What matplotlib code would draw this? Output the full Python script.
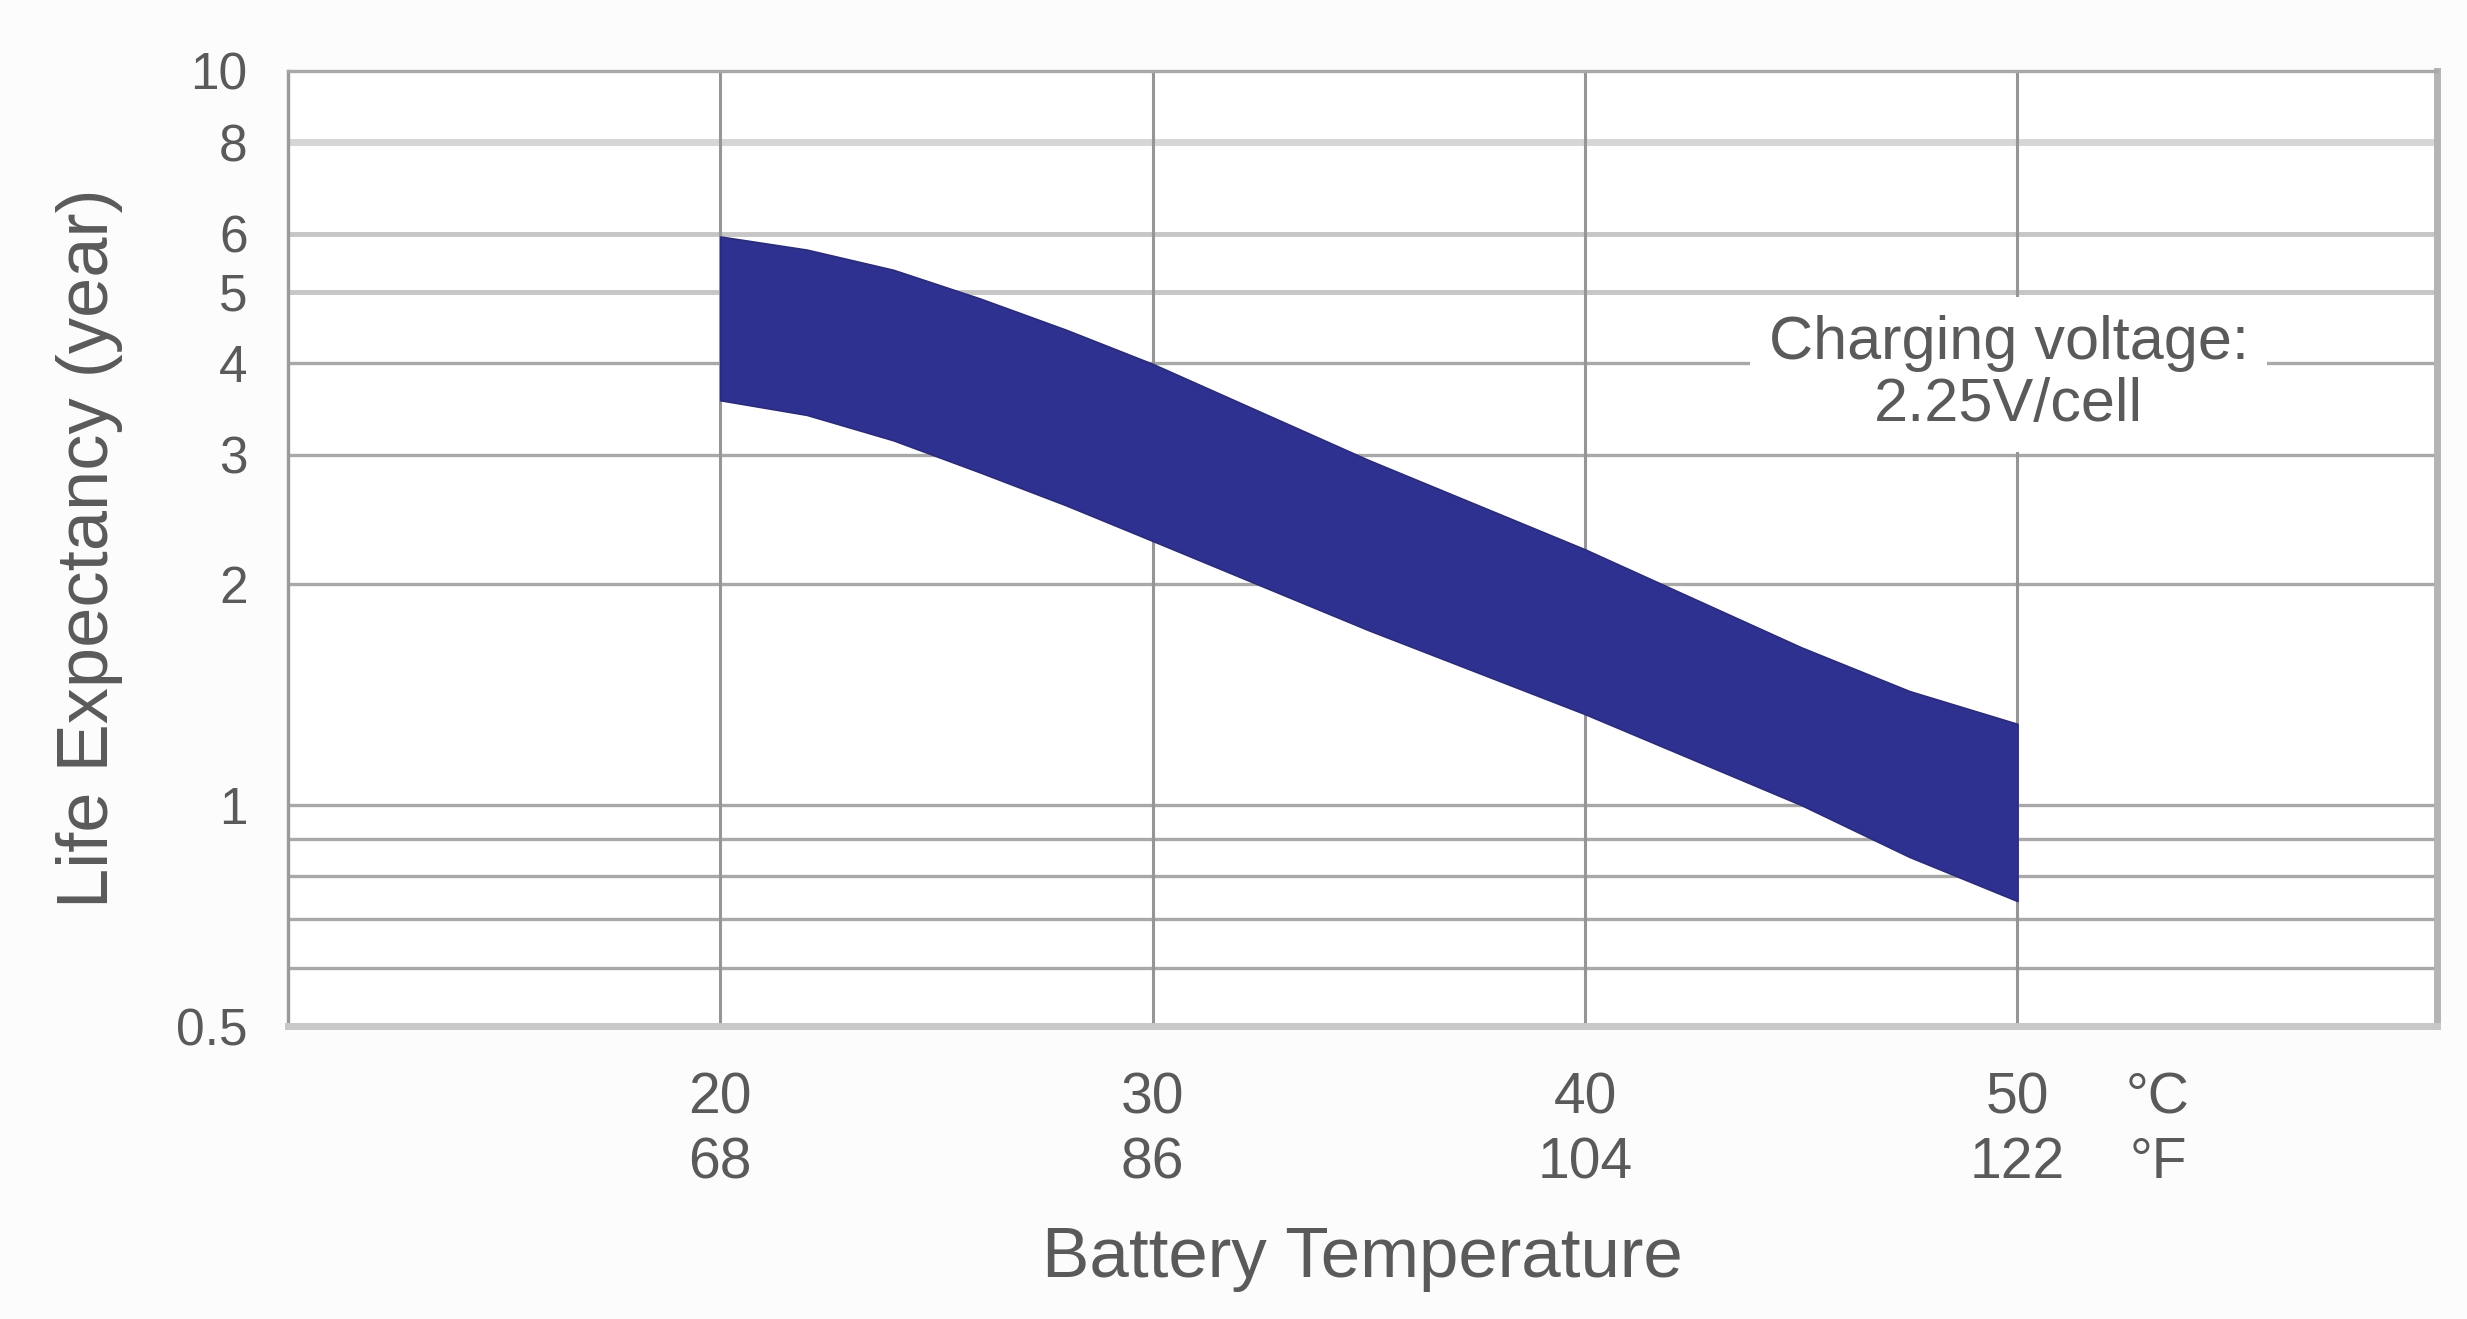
import matplotlib
matplotlib.use('Agg')
import matplotlib.pyplot as plt

# ---- data ----
temps_c = [20, 30, 40, 50]
temps_f = [68, 86, 104, 122]
y_ticks = [0.5, 1, 2, 3, 4, 5, 6, 8, 10]
y_tick_labels = ['0.5', '1', '2', '3', '4', '5', '6', '8', '10']
grid_levels = [0.6, 0.7, 0.8, 0.9, 1, 2, 3, 4, 5, 6, 8]

band_temp = [20, 22, 24, 26, 28, 30, 35, 40, 45, 47.5, 50]
life_upper = [5.95, 5.71, 5.36, 4.90, 4.44, 3.99, 2.95, 2.23, 1.64, 1.43, 1.29]
life_lower = [3.56, 3.40, 3.14, 2.84, 2.56, 2.29, 1.73, 1.33, 1.00, 0.85, 0.74]

unit_label = '°C\n°F'
annotation = 'Charging voltage:\n2.25V/cell'
x_title = 'Battery Temperature'
y_title = 'Life Expectancy (year)'

# ---- style ----
plt.rcParams['font.family'] = ['Liberation Sans', 'DejaVu Sans']
txt_color = '#5a5a5a'

fig = plt.figure(figsize=(24.67, 13.19), dpi=100, facecolor='#fcfcfc')
ax = fig.add_axes([0.1167, 0.2221, 0.8711, 0.7241])
ax.set_facecolor('white')

ax.set_yscale('log')
ax.set_xlim(10, 59.7)
ax.set_ylim(0.5, 10)

# grid lines
for lv in grid_levels:
    if lv == 8:
        c, w = '#d6d6d6', 5
    elif lv in (6, 5):
        c, w = '#c6c6c6', 3.5
    else:
        c, w = '#a8a8a8', 2.4
    ax.axhline(lv, color=c, lw=w, zorder=1)
for t in temps_c:
    ax.axvline(t, color='#969696', lw=2.2, zorder=1)

# band
ax.fill_between(band_temp, life_lower, life_upper, facecolor='#2f3190',
                edgecolor='#2a2b7a', lw=1.2, zorder=3)

# ticks
ax.set_yticks(y_ticks)
ax.set_yticklabels(y_tick_labels)
ax.yaxis.set_minor_locator(matplotlib.ticker.NullLocator())
ax.set_xticks(temps_c + [53.25])
ax.set_xticklabels([f'{c}\n{f}' for c, f in zip(temps_c, temps_f)] + [unit_label])
ax.tick_params(axis='y', length=0, pad=29, labelsize=37, labelcolor=txt_color)
ax.tick_params(axis='x', length=0, pad=33, labelsize=41, labelcolor=txt_color)
for lab in ax.get_xticklabels():
    lab.set_linespacing(1.25)

# spines
ax.spines['left'].set_color('#9a9a9a'); ax.spines['left'].set_linewidth(2.4)
ax.spines['top'].set_color('#a8a8a8'); ax.spines['top'].set_linewidth(2.4)
ax.spines['bottom'].set_color('#c8c8c8'); ax.spines['bottom'].set_linewidth(5)
ax.spines['right'].set_color('#b4b4b4'); ax.spines['right'].set_linewidth(5)
for s in ax.spines.values():
    s.set_zorder(2)

# annotation
ax.text(49.8, 3.86, annotation, ha='center', va='center', fontsize=44,
        color=txt_color, linespacing=1.1, zorder=4,
        bbox=dict(boxstyle='square,pad=0.3', fc='white', ec='none'))

# axis titles
ax.set_xlabel(x_title, fontsize=51, color=txt_color, labelpad=26)
ax.set_ylabel(y_title, fontsize=52, color=txt_color, labelpad=38)

fig.savefig('out.png', dpi=100, facecolor=fig.get_facecolor())
